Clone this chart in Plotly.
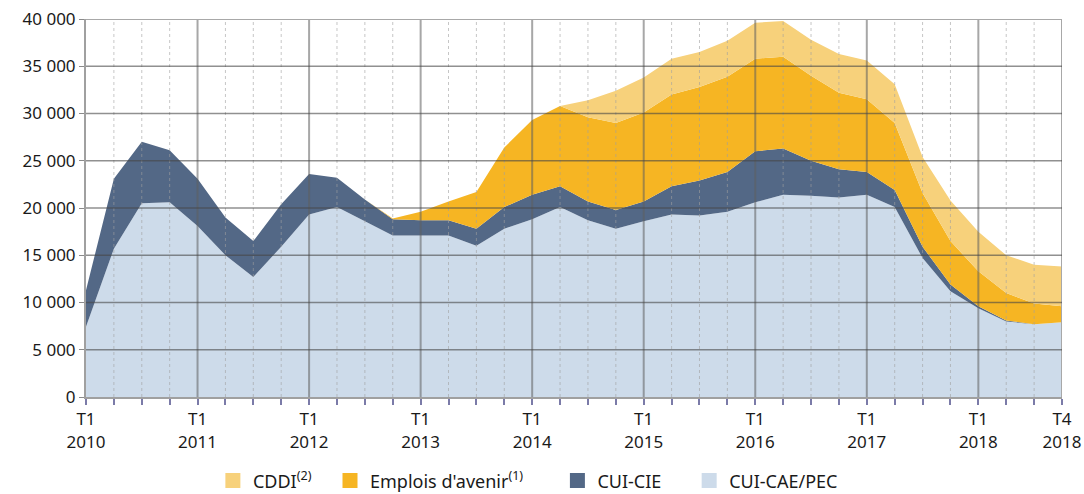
import plotly.graph_objects as go

# Quarters T1 2010 .. T4 2018
years = list(range(2010, 2019))
quarters = [f"T{q} {y}" for y in years for q in range(1, 5)]

cui_cae_pec = [7440, 15700, 20500, 20600, 18100, 15000, 12700, 15900, 19300, 20100,
               18600, 17100, 17100, 17100, 16000, 17800, 18800, 20100, 18700, 17800,
               18600, 19300, 19200, 19600, 20600, 21400, 21300, 21100, 21400, 20100,
               14700, 11200, 9400, 8000, 7700, 7900]
cui_cie = [3860, 7400, 6500, 5500, 5000, 4000, 3800, 4500, 4300, 3100,
           2300, 1700, 1600, 1600, 1800, 2300, 2600, 2200, 2000, 2000,
           2100, 3000, 3700, 4200, 5400, 4900, 3700, 3000, 2400, 1800,
           1200, 700, 200, 100, 0, 0]
emplois_avenir = [0, 0, 0, 0, 0, 0, 0, 0, 0, 0,
                  0, 100, 900, 2000, 3900, 6300, 7900, 8500, 8900, 9200,
                  9400, 9700, 9900, 10100, 9800, 9700, 9000, 8100, 7700, 7100,
                  5700, 4600, 3700, 2900, 2200, 1700]
cddi = [0, 0, 0, 0, 0, 0, 0, 0, 0, 0,
        0, 0, 0, 0, 0, 0, 0, 0, 1800, 3400,
        3700, 3800, 3700, 3800, 3800, 3800, 3800, 4100, 4100, 4100,
        3800, 4300, 4200, 4000, 4100, 4200]

y_ticks = [0, 5000, 10000, 15000, 20000, 25000, 30000, 35000, 40000]

# stacking order (bottom -> top)
series = [
    ("CUI-CAE/PEC", cui_cae_pec, "#CDDBEA"),
    ("CUI-CIE", cui_cie, "#536886"),
    ("Emplois d'avenir<sup>(1)</sup>", emplois_avenir, "#F6B523"),
    ("CDDI<sup>(2)</sup>", cddi, "#F7D17B"),
]
# legend entries left -> right and where each one sits (paper x)
legend_pos = {
    "CDDI<sup>(2)</sup>": 0.130,
    "Emplois d'avenir<sup>(1)</sup>": 0.250,
    "CUI-CIE": 0.483,
    "CUI-CAE/PEC": 0.618,
}

x_idx = list(range(len(quarters)))
tick_text = []
for i, q in enumerate(quarters):
    t, y = q.split(" ")
    if t == "T1" or i == len(quarters) - 1:
        tick_text.append(f"{t}<br>{y}")
    else:
        tick_text.append("")

FONT = "Noto Sans, sans-serif"

fig = go.Figure()
for name, vals, color in series:
    fig.add_trace(go.Scatter(
        x=x_idx, y=vals, name=name, mode="lines",
        stackgroup="one", line=dict(width=0, color=color),
        fillcolor=color, showlegend=False,
    ))

# square legend keys, one legend box per entry so they can be spaced like the original
legends = {}
for k, (name, vals, color) in enumerate(reversed(series)):
    lid = "legend" if k == 0 else f"legend{k + 1}"
    fig.add_trace(go.Scatter(
        x=[None], y=[None], name=name, mode="markers",
        marker=dict(symbol="square", size=15, color=color),
        legend=lid, showlegend=True,
    ))
    legends[lid] = dict(
        x=legend_pos[name], xanchor="left", y=-0.222, yanchor="middle",
        orientation="h", bgcolor="rgba(0,0,0,0)", borderwidth=0,
        font=dict(family=FONT, size=18, color="#1a1a1a"),
    )

# grid drawn above the areas, like the original
shapes = []
for i, q in enumerate(quarters):
    if i == 0:
        continue
    if i == len(quarters) - 1:
        line = dict(color="#a8a8a8", width=2)
    elif q.startswith("T1"):
        line = dict(color="rgba(95,95,95,0.55)", width=2)
    else:
        line = dict(color="rgba(160,160,160,0.6)", width=1, dash="dot")
    shapes.append(dict(type="line", xref="x", yref="y", x0=i, x1=i, y0=0, y1=y_ticks[-1],
                       line=line, layer="above"))
for v in y_ticks[1:]:
    if v == y_ticks[-1]:
        line = dict(color="#a8a8a8", width=2)
    else:
        line = dict(color="rgba(70,70,70,0.6)", width=1.5)
    shapes.append(dict(type="line", xref="x", yref="y", x0=0, x1=len(quarters) - 1, y0=v, y1=v,
                       line=line, layer="above"))

fig.update_layout(
    width=1084, height=494,
    margin=dict(l=86, r=22, t=19, b=97, autoexpand=False),
    plot_bgcolor="white", paper_bgcolor="white",
    separators=", ",
    font=dict(family=FONT, size=17, color="#1a1a1a"),
    shapes=shapes,
    showlegend=True,
    **legends,
)
fig.update_xaxes(
    range=[0, len(quarters) - 1], tickvals=x_idx, ticktext=tick_text, automargin=False,
    showgrid=False, zeroline=False, showline=True, linecolor="#a0a0a0", linewidth=2,
    ticks="outside", ticklen=6, tickcolor="#7b7ba8", tickwidth=2, tickangle=0,
)
fig.update_yaxes(
    range=[0, 40000], tickvals=y_ticks, tickformat=",", automargin=False,
    showgrid=False, zeroline=False, showline=True, linecolor="#a0a0a0", linewidth=2,
    ticks="outside", ticklen=5, tickcolor="#8a8a8a", tickwidth=1,
)

# drop the browser's default body margin so the figure fills the window
fig.write_html("out.html", config={"displayModeBar": False},
               post_script="document.body.style.margin='0px';")
